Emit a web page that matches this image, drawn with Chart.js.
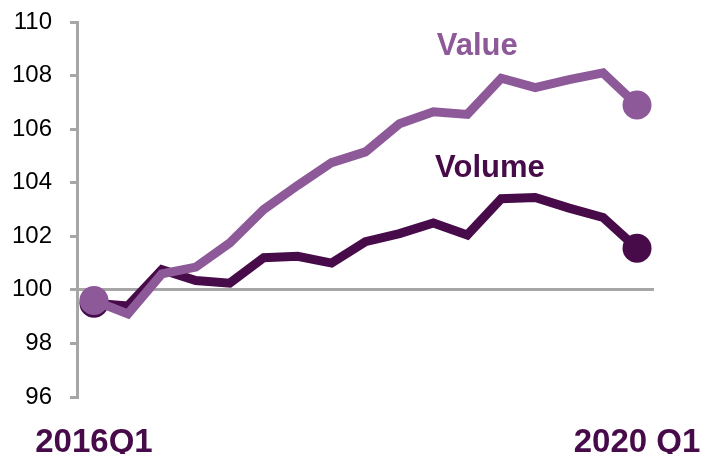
<!DOCTYPE html>
<html>
<head>
<meta charset="utf-8">
<script src="https://cdn.jsdelivr.net/npm/chart.js@4"></script>
<style>
  html, body { margin: 0; padding: 0; background: #fff; }
  #wrap { width: 708px; height: 454px; }
</style>
</head>
<body>
<div id="wrap"><canvas id="grafico" width="708" height="454"></canvas></div>
<script>
const trimestres = ["2016Q1", "2016Q2", "2016Q3", "2016Q4", "2017Q1", "2017Q2", "2017Q3", "2017Q4",
    "2018Q1", "2018Q2", "2018Q3", "2018Q4", "2019Q1", "2019Q2", "2019Q3", "2019Q4", "2020 Q1"];
const valor = [99.6, 99.1, 100.6, 100.85, 101.75, 103.0, 103.9, 104.75, 105.15, 106.2, 106.65,
    106.55, 107.9, 107.55, 107.85, 108.1, 106.9];
const volume = [99.5, 99.4, 100.75, 100.35, 100.25, 101.2, 101.25, 101.0, 101.8, 102.1, 102.5,
    102.05, 103.4, 103.45, 103.05, 102.7, 101.55];
const yTicks = [96, 98, 100, 102, 104, 106, 108, 110];

const corValor = '#8D5998';
const corVolume = '#470B4A';
const cinza = '#A6A6A6';
const fonte = '"Liberation Sans", Arial, sans-serif';

const ultimo = trimestres.length - 1;
const raio = ctx => (ctx.dataIndex === 0 || ctx.dataIndex === ultimo) ? 14.5 : 0;

// rótulos "Value" / "Volume" dentro do gráfico
const rotulos = {
    id: 'rotulos',
    afterDatasetsDraw(chart) {
        const { ctx, scales: { x, y } } = chart;
        const px = v => x.left + (v + 0.5) * (x.width / trimestres.length);
        ctx.save();
        ctx.font = 'bold 31px ' + fonte;
        ctx.textBaseline = 'alphabetic';
        ctx.textAlign = 'left';
        ctx.fillStyle = corValor;
        ctx.fillText('Value', px(10.1), y.getPixelForValue(108.77));
        ctx.fillStyle = corVolume;
        ctx.fillText('Volume', px(10.05), y.getPixelForValue(104.2));
        ctx.restore();
    }
};

const ctx = document.getElementById('grafico').getContext('2d');
new Chart(ctx, {
    type: 'line',
    data: {
        labels: trimestres,
        datasets: [{
            label: 'Value',
            data: valor,
            borderColor: corValor,
            backgroundColor: corValor,
            borderWidth: 9,
            pointRadius: raio,
            pointBorderWidth: 0,
            tension: 0
        }, {
            label: 'Volume',
            data: volume,
            borderColor: corVolume,
            backgroundColor: corVolume,
            borderWidth: 9,
            pointRadius: raio,
            pointBorderWidth: 0,
            tension: 0
        }]
    },
    options: {
        responsive: false,
        animation: false,
        layout: { padding: { top: 22, right: 54, left: 0, bottom: 0 } },
        plugins: { legend: { display: false }, tooltip: { enabled: false } },
        scales: {
            x: {
                offset: true,
                grid: { display: false, drawTicks: false },
                border: { display: false },
                ticks: {
                    autoSkip: false,
                    maxRotation: 0,
                    padding: 26,
                    color: corVolume,
                    font: { family: fonte, size: 33, weight: 'bold' },
                    callback: (v, i) => (i === 0 || i === ultimo) ? trimestres[i] : ''
                },
                afterFit: s => { s.height = 57; s.paddingLeft = 0; s.paddingRight = 0; }
            },
            y: {
                min: 96,
                max: 110,
                afterBuildTicks: s => { s.ticks = yTicks.map(v => ({ value: v })); },
                grid: {
                    color: c => (c.tick && c.tick.value === 100) ? cinza : 'rgba(0,0,0,0)',
                    tickColor: cinza,
                    lineWidth: 3,
                    tickLength: 7
                },
                border: { color: cinza, width: 3 },
                ticks: {
                    padding: 18,
                    color: '#000',
                    font: { family: fonte, size: 24 }
                },
                afterFit: s => { s.width = 77; s.paddingTop = 0; s.paddingBottom = 0; }
            }
        }
    },
    plugins: [rotulos]
});
</script>
</body>
</html>
